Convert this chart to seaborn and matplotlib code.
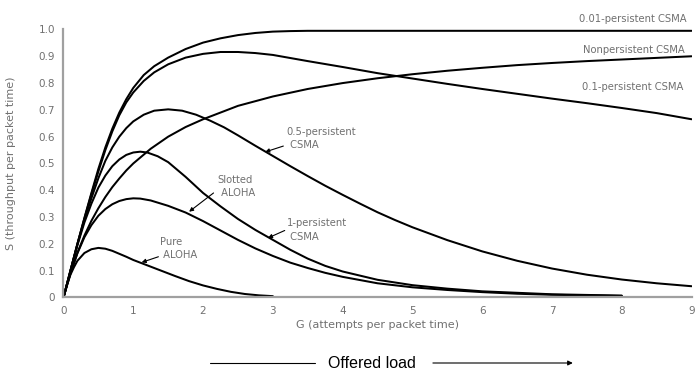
import pandas as pd
import matplotlib
matplotlib.use("Agg")
import matplotlib.pyplot as plt
import seaborn as sns

# offered load G and throughput S
G_pure = [0, 0.05, 0.1, 0.15, 0.2, 0.3, 0.4, 0.5, 0.6, 0.7, 0.8, 0.9, 1.0, 1.2, 1.4, 1.6, 1.8, 2.0,
          2.2, 2.4, 2.6, 2.8, 3.0]
S_pure = [0, 0.047, 0.085, 0.113, 0.137, 0.166, 0.18, 0.185, 0.182, 0.174, 0.163, 0.152, 0.14, 0.12,
          0.1, 0.08, 0.061, 0.045, 0.032, 0.021, 0.013, 0.008, 0.005]

G_slot = [0, 0.1, 0.2, 0.3, 0.4, 0.5, 0.6, 0.7, 0.8, 0.9, 1.0, 1.1, 1.25, 1.5, 1.75, 2.0, 2.25, 2.5,
          2.75, 3.0, 3.25, 3.5, 3.75, 4.0, 4.5, 5.0, 5.5, 6.0, 6.5, 7.0, 7.5, 8.0]
S_slot = [0, 0.09, 0.165, 0.225, 0.27, 0.305, 0.33, 0.348, 0.36, 0.367, 0.37, 0.369, 0.362, 0.342,
          0.317, 0.285, 0.25, 0.215, 0.183, 0.155, 0.13, 0.11, 0.092, 0.077, 0.053, 0.038, 0.028,
          0.02, 0.014, 0.01, 0.008, 0.006]

G_1p = [0, 0.1, 0.2, 0.3, 0.4, 0.5, 0.6, 0.7, 0.8, 0.9, 1.0, 1.1, 1.2, 1.35, 1.5, 1.75, 2.0, 2.25,
        2.5, 2.75, 3.0, 3.25, 3.5, 3.75, 4.0, 4.5, 5.0, 5.5, 6.0, 7.0, 8.0]
S_1p = [0, 0.1, 0.195, 0.28, 0.35, 0.41, 0.455, 0.49, 0.515, 0.532, 0.541, 0.544, 0.541, 0.527,
        0.505, 0.45, 0.39, 0.34, 0.293, 0.252, 0.215, 0.178, 0.145, 0.118, 0.097, 0.066, 0.046,
        0.033, 0.023, 0.012, 0.007]

G_05 = [0, 0.1, 0.2, 0.3, 0.4, 0.5, 0.6, 0.7, 0.8, 0.9, 1.0, 1.15, 1.3, 1.5, 1.7, 1.9, 2.1, 2.3,
        2.5, 2.75, 3.0, 3.25, 3.5, 3.75, 4.0, 4.25, 4.5, 4.75, 5.0, 5.5, 6.0, 6.5, 7.0, 7.5, 8.0,
        8.5, 9.0]
S_05 = [0, 0.1, 0.2, 0.29, 0.37, 0.445, 0.51, 0.56, 0.6, 0.632, 0.657, 0.682, 0.697, 0.702, 0.697,
        0.682, 0.66, 0.635, 0.605, 0.566, 0.528, 0.49, 0.453, 0.417, 0.383, 0.35, 0.318, 0.289,
        0.262, 0.214, 0.172, 0.137, 0.108, 0.085, 0.067, 0.053, 0.042]

G_01 = [0, 0.1, 0.2, 0.3, 0.4, 0.5, 0.6, 0.7, 0.8, 0.9, 1.0, 1.15, 1.3, 1.5, 1.75, 2.0, 2.25, 2.5,
        2.75, 3.0, 3.5, 4.0, 4.5, 5.0, 5.5, 6.0, 6.5, 7.0, 7.5, 8.0, 8.5, 9.0]
S_01 = [0, 0.1, 0.2, 0.295, 0.385, 0.47, 0.55, 0.62, 0.68, 0.728, 0.765, 0.808, 0.84, 0.87, 0.895,
        0.909, 0.916, 0.916, 0.912, 0.905, 0.882, 0.86, 0.837, 0.817, 0.797, 0.778, 0.76, 0.742,
        0.725, 0.707, 0.688, 0.665]

G_001 = [0, 0.1, 0.2, 0.3, 0.4, 0.5, 0.6, 0.7, 0.8, 0.9, 1.0, 1.15, 1.3, 1.5, 1.75, 2.0, 2.25, 2.5,
         2.75, 3.0, 3.25, 3.5, 4.0, 5.0, 6.0, 7.0, 8.0, 9.0]
S_001 = [0, 0.1, 0.2, 0.297, 0.39, 0.48, 0.56, 0.63, 0.69, 0.74, 0.782, 0.83, 0.863, 0.895, 0.927,
         0.951, 0.967, 0.979, 0.987, 0.992, 0.994, 0.995, 0.995, 0.995, 0.995, 0.995, 0.995, 0.995]

G_np = [0, 0.1, 0.2, 0.3, 0.4, 0.5, 0.6, 0.7, 0.8, 0.9, 1.0, 1.25, 1.5, 1.75, 2.0, 2.5, 3.0, 3.5,
        4.0, 4.5, 5.0, 5.5, 6.0, 6.5, 7.0, 7.5, 8.0, 8.5, 9.0]
S_np = [0, 0.09, 0.167, 0.231, 0.286, 0.333, 0.375, 0.412, 0.444, 0.474, 0.5, 0.555, 0.6, 0.636,
        0.665, 0.715, 0.75, 0.778, 0.8, 0.818, 0.833, 0.846, 0.857, 0.867, 0.875, 0.882, 0.888,
        0.894, 0.9]

curves = {
    "Pure ALOHA": (G_pure, S_pure),
    "Slotted ALOHA": (G_slot, S_slot),
    "1-persistent CSMA": (G_1p, S_1p),
    "0.5-persistent CSMA": (G_05, S_05),
    "0.1-persistent CSMA": (G_01, S_01),
    "0.01-persistent CSMA": (G_001, S_001),
    "Nonpersistent CSMA": (G_np, S_np),
}
df = pd.concat(
    [pd.DataFrame({"G": g, "S": s, "curve": name}) for name, (g, s) in curves.items()],
    ignore_index=True,
)

sns.set_theme(style="white")
plt.rcParams["font.family"] = ["DejaVu Sans"]

TXT = "#707070"

fig = plt.figure(figsize=(6.96, 3.75), dpi=100)
ax = fig.add_axes([0.0912, 0.2067, 0.9025, 0.7147])

sns.lineplot(data=df, x="G", y="S", units="curve", estimator=None, sort=False,
             ax=ax, color="black", linewidth=1.45, legend=False)

ax.set_xlim(0, 9)
ax.set_ylim(0, 1.0)
ax.set_xticks(range(10))
ax.set_yticks([i / 10 for i in range(11)])
ax.set_yticklabels(["0"] + [f"{i / 10:.1f}" for i in range(1, 11)])
sns.despine(ax=ax)
for side in ["left", "bottom"]:
    ax.spines[side].set_color("#a0a0a0")
    ax.spines[side].set_linewidth(1.6)
ax.tick_params(direction="in", length=7, width=1.1, color="#a0a0a0",
               labelcolor=TXT, labelsize=7.5, pad=6)

ax.set_xlabel("G (attempts per packet time)", fontsize=8, color=TXT, labelpad=3)
ax.set_ylabel("S (throughput per packet time)", fontsize=8, color=TXT)
ax.yaxis.set_label_coords(-0.075, 0.5)

# right-hand labels
lab_kw = dict(fontsize=7.2, color=TXT, ha="right", va="center", clip_on=False)
ax.text(8.93, 1.04, "0.01-persistent CSMA", **lab_kw)
ax.text(8.90, 0.923, "Nonpersistent CSMA", **lab_kw)
ax.text(8.88, 0.785, "0.1-persistent CSMA", **lab_kw)

# labels with small leader arrows
arrow = dict(arrowstyle="-|>", color="black", lw=0.8, mutation_scale=6, shrinkA=0, shrinkB=0)
in_kw = dict(fontsize=7.2, color=TXT, ha="left", va="center", linespacing=1.4)
ax.text(3.2, 0.594, "0.5-persistent\n CSMA", **in_kw)
ax.annotate("", xy=(2.89, 0.543), xytext=(3.15, 0.565), arrowprops=arrow)
ax.text(2.21, 0.414, "Slotted\n ALOHA", **in_kw)
ax.annotate("", xy=(1.8, 0.32), xytext=(2.15, 0.39), arrowprops=arrow)
ax.text(3.2, 0.252, "1-persistent\n CSMA", **in_kw)
ax.annotate("", xy=(2.93, 0.222), xytext=(3.17, 0.25), arrowprops=arrow)
ax.text(1.38, 0.183, "Pure\n ALOHA", **in_kw)
ax.annotate("", xy=(1.12, 0.131), xytext=(1.36, 0.152), arrowprops=arrow)

# offered load banner
fig.text(0.535, 0.032, "Offered load", fontsize=11.5, color="black", ha="center", va="center",
         family=["Liberation Sans", "DejaVu Sans"])
fig.add_artist(plt.Line2D([0.302, 0.452], [0.032, 0.032], color="black", lw=0.8))
ax.annotate("", xy=(0.823, 0.032), xytext=(0.622, 0.032), xycoords="figure fraction",
            arrowprops=dict(arrowstyle="-|>", color="black", lw=0.8, mutation_scale=7,
                            shrinkA=0, shrinkB=0))

fig.savefig("out.png", dpi=100)
